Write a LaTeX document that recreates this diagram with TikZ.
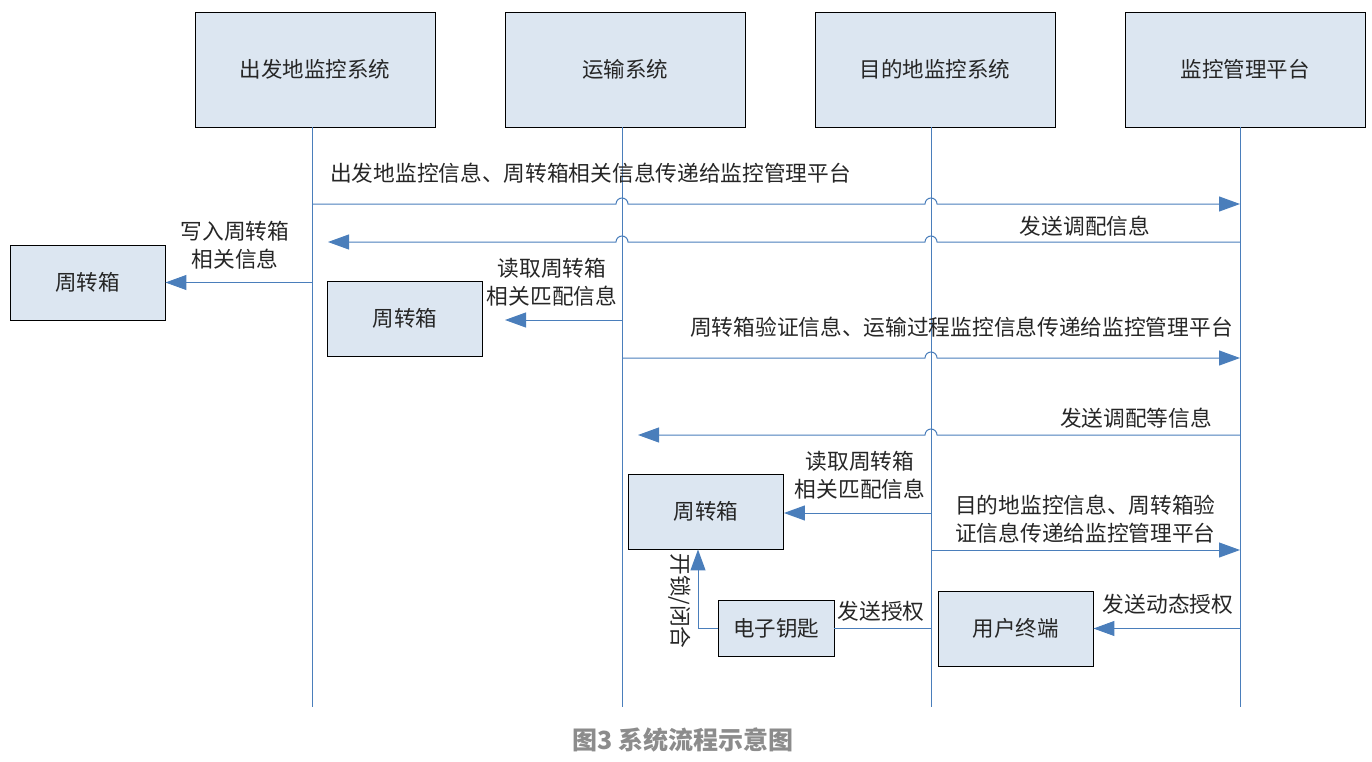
\documentclass[tikz,border=0pt]{standalone}
\usepackage{fontspec}
\setmainfont{Noto Sans CJK SC}
\usetikzlibrary{arrows.meta}
\definecolor{boxfill}{HTML}{DCE6F1}
\definecolor{linec}{HTML}{4A7EBB}
\definecolor{txt}{HTML}{262626}
\definecolor{capc}{HTML}{8C8C8C}
\tikzset{
  sysbox/.style={draw=black,fill=boxfill,line width=0.9pt,minimum width=240pt,minimum height=115pt,inner sep=0pt,text=txt,font=\fontsize{21.5}{26}\selectfont},
  smallbox/.style={draw=black,fill=boxfill,line width=0.9pt,minimum width=155pt,minimum height=75pt,inner sep=0pt,text=txt,font=\fontsize{21.5}{26}\selectfont},
  life/.style={draw=linec,line width=1pt},
  msg/.style={draw=linec,line width=1pt,-{Triangle[length=21pt,width=15pt]}},
  plain/.style={draw=linec,line width=1pt},
  lbl/.style={text=txt,inner sep=0pt,font=\fontsize{21.7}{28}\selectfont,align=center},
}
\begin{document}
\begin{tikzpicture}[x=1pt,y=1pt]
\useasboundingbox (0,0) rectangle (1372,-762);
% system boxes
\node[sysbox] (s1) at (315,-69.5) {出发地监控系统};
\node[sysbox] (s2) at (625,-69.5) {运输系统};
\node[sysbox] (s3) at (935,-69.5) {目的地监控系统};
\node[sysbox] (s4) at (1245,-69.5) {监控管理平台};
\coordinate (e1) at (312,-707);
\coordinate (e2) at (622,-707);
\coordinate (e3) at (931,-707);
\coordinate (e4) at (1240,-707);
\draw[life] (e1 |- s1.south) -- (e1);
\draw[life] (e2 |- s2.south) -- (e2);
\draw[life] (e3 |- s3.south) -- (e3);
\draw[life] (e4 |- s4.south) -- (e4);
% other boxes
\node[smallbox] (b1) at (87.5,-282.5) {周转箱};
\node[smallbox] (b2) at (405,-318.5) {周转箱};
\node[smallbox] (b3) at (706,-511.5) {周转箱};
\node[smallbox,minimum width=116pt,minimum height=56pt] (key) at (776,-628) {电子钥匙};
\node[smallbox] (term) at (1015.5,-628.5) {用户终端};
% message 1
\draw[msg] (e1 |- 0,-204) -- (616,-204) arc (180:0:6) -- (925,-204) arc (180:0:6) -- (e4 |- 0,-204);
\node[lbl,anchor=west] (l1) at (330,-173) {出发地监控信息、周转箱相关信息传递给监控管理平台};
% message 2
\coordinate (t2) at (328,-242);
\draw[msg] (e4 |- 0,-242) -- (937,-242) arc (0:180:6) -- (628,-242) arc (0:180:6) -- (t2);
\node[lbl] (l2) at (1085,-226) {发送调配信息};
% message 3
\draw[msg] (e1 |- b1.east) -- (b1.east);
\node[lbl] (l3) at (235,-245) {写入周转箱\\相关信息};
% message 4
\coordinate (t4) at (505,-320);
\draw[msg] (e2 |- t4) -- (t4);
\node[lbl] (l4) at (552,-282) {读取周转箱\\相关匹配信息};
% message 5
\draw[msg] (e2 |- 0,-358) -- (925,-358) arc (180:0:6) -- (e4 |- 0,-358);
\node[lbl,anchor=west] (l5) at (690,-327) {周转箱验证信息、运输过程监控信息传递给监控管理平台};
% message 6
\coordinate (t6) at (638,-435);
\draw[msg] (e4 |- t6) -- (937,-435) arc (0:180:6) -- (t6);
\node[lbl] (l6) at (1136,-418) {发送调配等信息};
% message 7
\draw[msg] (e3 |- 0,-513) -- (b3.east |- 0,-513);
\node[lbl] (l7) at (860,-475) {读取周转箱\\相关匹配信息};
% message 8
\draw[msg] (e3 |- 0,-550) -- (e4 |- 0,-550);
\node[lbl,anchor=west,align=left] (l8) at (955,-519) {目的地监控信息、周转箱验\\证信息传递给监控管理平台};
% message 9
\draw[msg] (e4 |- term.east) -- (term.east);
\node[lbl] (l9) at (1168,-604) {发送动态授权};
% message 10
\draw[plain] (e3 |- key.east) -- (key.east);
\node[lbl] (l10) at (881,-611) {发送授权};
% message 11
\draw[msg] (key.west) -| ([xshift=-8pt]b3.south);
\node[lbl,rotate=-90] (l11) at (680,-601) {开锁/闭合};
% caption
\node[text=capc,font=\fontsize{25}{30}\selectfont\bfseries] (cap) at (683,-740) {图3\ 系统流程示意图};
\end{tikzpicture}
\end{document}
